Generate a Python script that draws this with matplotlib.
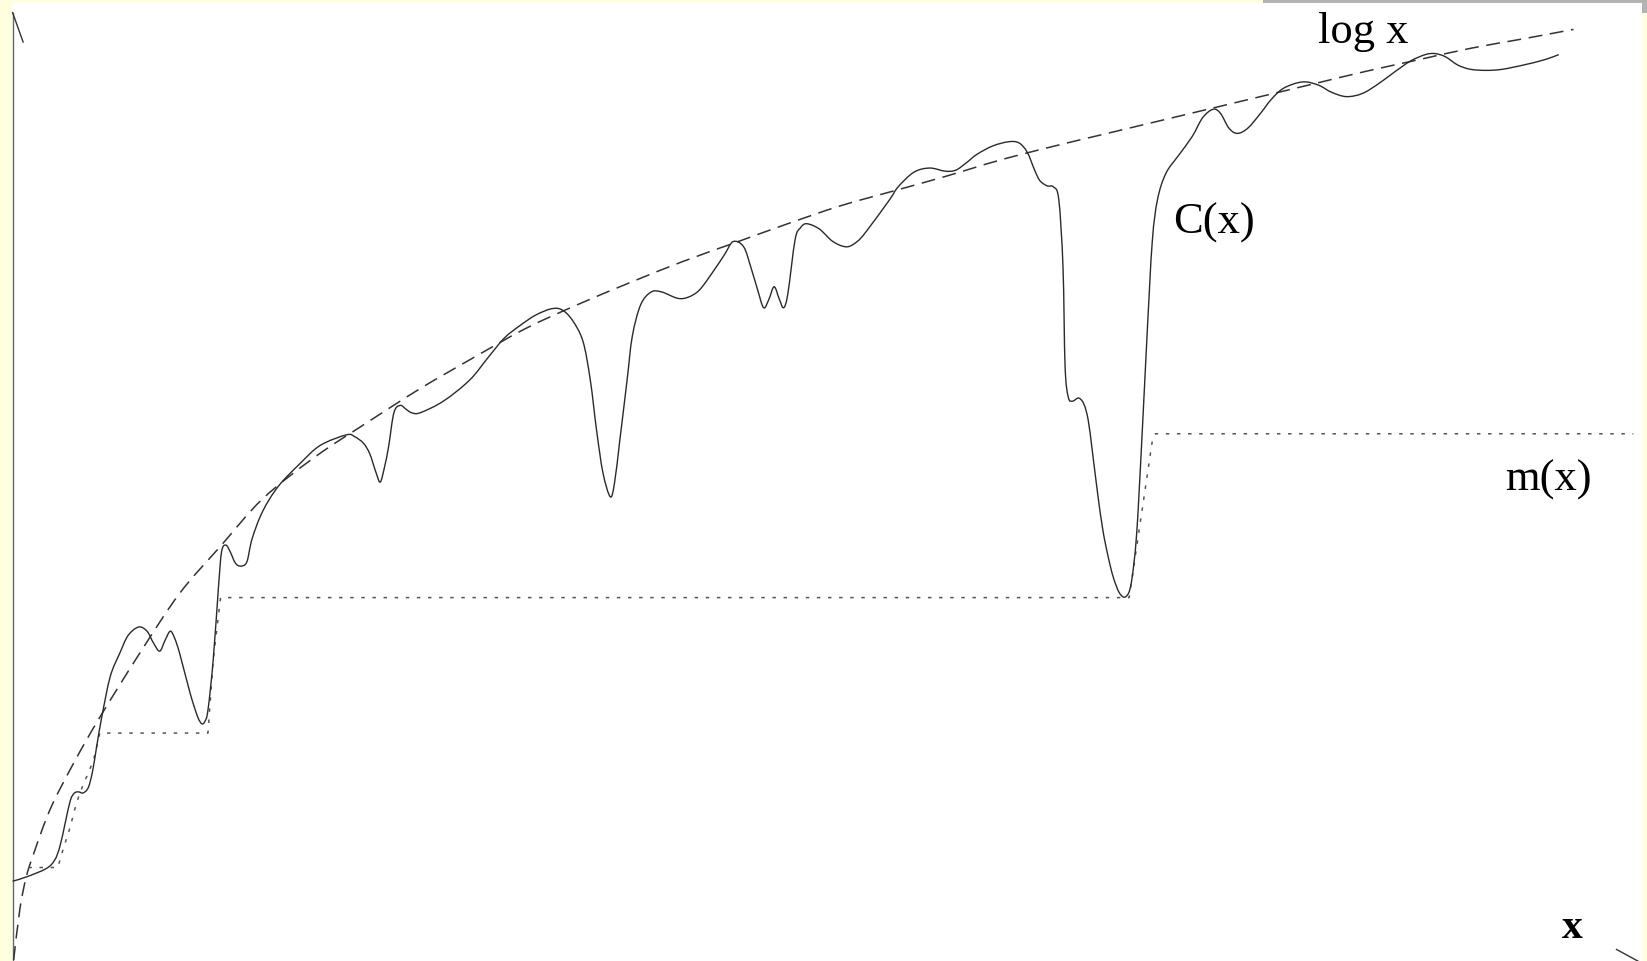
import numpy as np
import matplotlib
matplotlib.use("Agg")
import matplotlib.pyplot as plt
from matplotlib.patches import Rectangle, PathPatch
from matplotlib.path import Path

plt.rcParams['lines.scale_dashes'] = False
plt.rcParams['patch.force_edgecolor'] = True

# C(x) (x along the axis, y up)
cx = [0.00, 0.13, 0.32, 0.40, 0.45, 0.50, 0.55, 0.59, 0.63, 0.67, 0.72, 0.76,
      0.80, 0.85, 0.93, 1.02, 1.10, 1.20, 1.28, 1.34, 1.40, 1.45, 1.50, 1.54,
      1.59, 1.69, 1.76, 1.80, 1.83, 1.86, 1.91, 1.96, 1.99, 2.03, 2.07, 2.12,
      2.17, 2.23, 2.28, 2.38, 2.53, 2.74, 2.93, 3.18, 3.26, 3.34, 3.40, 3.46,
      3.50, 3.54, 3.58, 3.63, 3.69, 3.75, 3.80, 3.88, 4.10, 4.35, 4.53, 4.68,
      4.83, 4.98, 5.13, 5.23, 5.33, 5.43, 5.50, 5.56, 5.62, 5.69, 5.73, 5.78,
      5.85, 5.90, 5.98, 6.08, 6.18, 6.33, 6.43, 6.54, 6.68, 6.78, 6.86, 6.96,
      7.03, 7.09, 7.15, 7.20, 7.25, 7.30, 7.34, 7.38, 7.45, 7.50, 7.56, 7.68,
      7.81, 7.94, 8.04, 8.13, 8.35, 8.43, 8.58, 8.73, 8.88, 8.98, 9.08, 9.18,
      9.33, 9.48, 9.58, 9.66, 9.73, 9.78, 9.85, 9.91, 9.96, 10.00, 10.02, 10.05,
      10.09, 10.15, 10.20, 10.24, 10.28, 10.33, 10.38, 10.43, 10.48, 10.54, 10.60, 10.65,
      10.70, 10.75, 10.80, 10.85, 10.90, 10.98, 11.10, 11.23, 11.33, 11.43, 11.50, 11.58,
      11.66, 11.76, 11.88, 11.98, 12.10, 12.28, 12.43, 12.56, 12.70, 12.85, 13.00, 13.15,
      13.31, 13.45, 13.54, 13.64, 13.76, 13.88, 14.03, 14.18, 14.38, 14.58, 14.72]
cy = [0.76, 0.80, 0.88, 0.96, 1.09, 1.31, 1.53, 1.60, 1.61, 1.60, 1.65, 1.80,
      2.04, 2.33, 2.71, 2.93, 3.10, 3.18, 3.14, 3.03, 2.95, 3.05, 3.14, 3.08,
      2.93, 2.55, 2.33, 2.26, 2.28, 2.39, 2.87, 3.56, 3.90, 3.96, 3.90, 3.79,
      3.76, 3.80, 4.02, 4.28, 4.52, 4.74, 4.91, 5.01, 4.99, 4.93, 4.83, 4.65,
      4.56, 4.70, 4.90, 5.22, 5.29, 5.25, 5.22, 5.22, 5.33, 5.53, 5.75, 5.93,
      6.05, 6.15, 6.21, 6.20, 6.10, 5.90, 5.53, 5.05, 4.65, 4.42, 4.55, 4.95,
      5.53, 5.95, 6.25, 6.37, 6.37, 6.31, 6.32, 6.39, 6.58, 6.73, 6.85, 6.80,
      6.60, 6.40, 6.22, 6.30, 6.42, 6.30, 6.22, 6.35, 6.87, 6.98, 7.02, 6.97,
      6.85, 6.80, 6.85, 6.95, 7.25, 7.37, 7.51, 7.55, 7.52, 7.53, 7.60, 7.68,
      7.76, 7.80, 7.79, 7.70, 7.53, 7.43, 7.38, 7.37, 7.25, 6.61, 5.66, 5.37,
      5.33, 5.36, 5.30, 5.15, 4.85, 4.45, 4.10, 3.85, 3.65, 3.50, 3.47, 3.60,
      4.05, 4.95, 5.95, 6.85, 7.25, 7.50, 7.67, 7.85, 8.03, 8.11, 8.07, 7.93,
      7.88, 7.93, 8.07, 8.20, 8.31, 8.37, 8.34, 8.27, 8.23, 8.26, 8.35, 8.46,
      8.57, 8.63, 8.64, 8.61, 8.53, 8.49, 8.48, 8.49, 8.53, 8.58, 8.63]

# log x (dashed)
lx = [0.01, 0.07, 0.13, 0.20, 0.36, 0.59, 0.83, 1.21, 1.59, 1.98, 2.38, 2.88,
      3.38, 3.88, 4.38, 4.88, 5.38, 5.88, 6.38, 6.88, 7.38, 7.88, 8.38, 8.88,
      9.38, 9.88, 10.38, 10.88, 11.38, 11.88, 12.38, 12.88, 13.38, 13.88, 14.38, 14.86]
ly = [0.01, 0.50, 0.80, 1.02, 1.45, 1.90, 2.32, 2.93, 3.50, 3.95, 4.40, 4.80,
      5.13, 5.45, 5.74, 6.02, 6.25, 6.46, 6.66, 6.84, 7.02, 7.19, 7.33, 7.47,
      7.62, 7.75, 7.87, 7.99, 8.11, 8.23, 8.35, 8.47, 8.58, 8.69, 8.78, 8.87]

# m(x) staircase (dotted)
mx = [0.15, 0.43, 0.48, 0.55, 0.59, 0.64, 0.72, 0.77, 0.80, 0.83, 1.86, 1.91,
      1.98, 10.63, 10.85, 10.88, 15.43]
my = [0.89, 0.89, 1.06, 1.28, 1.44, 1.60, 1.79, 1.91, 2.04, 2.17, 2.17, 2.87,
      3.46, 3.46, 4.95, 5.02, 5.02]

labels = ["log x", "C(x)", "m(x)", "x"]
label_x = [12.86, 11.05, 14.21, 14.85]
label_y = [8.74, 6.93, 4.48, 0.22]


def smooth_path(x, y):
    """Bezier path running through the points (Catmull-Rom tangents)"""
    p = np.column_stack([x, y])
    ext = np.vstack([p[0], p, p[-1]])
    verts = [p[0]]
    codes = [Path.MOVETO]
    for i in range(len(p) - 1):
        a, b, c, d = ext[i], ext[i + 1], ext[i + 2], ext[i + 3]
        verts += [b + (c - a) / 6.0, c - (d - b) / 6.0, c]
        codes += [Path.CURVE4] * 3
    return Path(verts, codes)


fig = plt.figure(figsize=(16.47, 9.61), dpi=100)
fig.patch.set_facecolor('#ffffe0')

ax = fig.add_axes([0, 0, 1, 1])
ax.patch.set_alpha(0)
ax.set_xlim(-0.12, 15.56)
ax.set_ylim(0, 9.15)
ax.axis('off')

# page / frame bits of the scan
for (x0, y0, w, h, c) in [(12, 0, 1630, 958, 'white'),
                          (1263, 958, 384, 3, '#b3b3b3'),
                          (1642, 948, 5, 13, '#b3b3b3')]:
    ax.add_patch(Rectangle((x0 / 1647, y0 / 961), w / 1647, h / 961,
                           transform=fig.transFigure, facecolor=c,
                           edgecolor='none', zorder=0, clip_on=False))

# axis fragments
ax.plot([0, 0], [-0.5, 9.03], color='#666666', lw=1.0, zorder=2)
ax.plot([0, 0.10], [9.03, 8.75], color='#333333', lw=1.0, zorder=2)
ax.plot([15.27, 15.6], [0.11, -0.07], color='#333333', lw=1.0, zorder=2)

ax.add_patch(PathPatch(smooth_path(lx, ly), fill=False, edgecolor='#333333',
                       lw=1.1, linestyle=(0, (10, 5.5)), zorder=2))
ax.plot(mx, my, color='#555555', lw=1.1, linestyle=(0, (2.5, 5.5)), zorder=2)
ax.add_patch(PathPatch(smooth_path(cx, cy), fill=False, edgecolor='#2a2a2a',
                       lw=1.0, joinstyle='round', zorder=3))

for i, t in enumerate(labels):
    if t == "x":
        ax.text(label_x[i], label_y[i], t, ha='center', va='baseline',
                fontsize=30, fontweight='bold', family='Liberation Serif')
    elif t == "log x":
        ax.text(label_x[i], label_y[i], t, ha='center', va='baseline',
                fontsize=32, family='Liberation Serif')
    else:
        ax.text(label_x[i], label_y[i], t, ha='left', va='baseline',
                fontsize=32, family='Liberation Serif')

fig.savefig('out.png', dpi=100)
